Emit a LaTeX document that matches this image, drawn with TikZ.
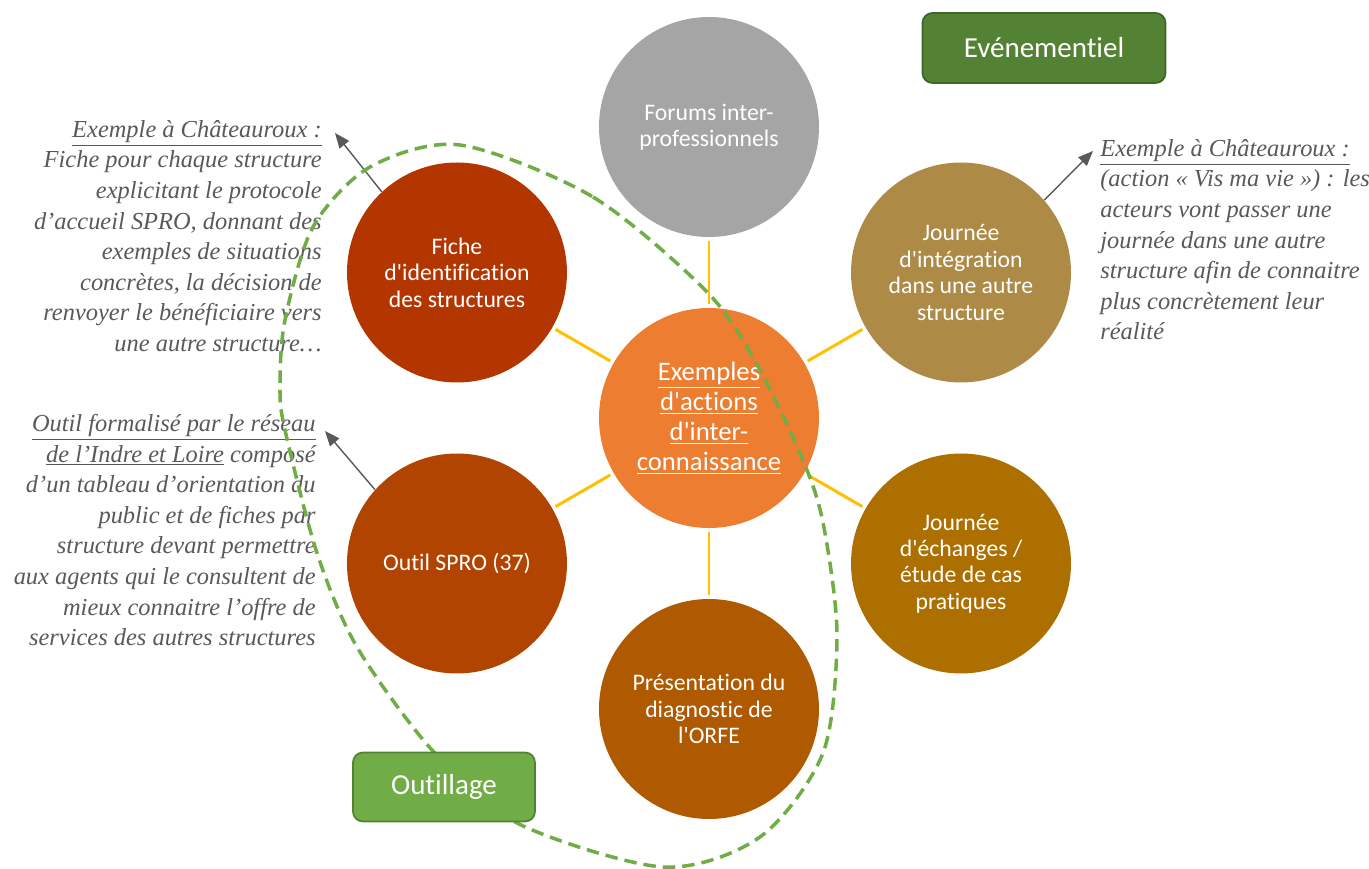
\documentclass[tikz,border=0pt]{standalone}
\usepackage{fontspec}
\setmainfont{Carlito}[Ligatures={TeXOff,NoCommon}]
\newfontfamily\notefont{Liberation Serif}
\usetikzlibrary{arrows.meta}

\definecolor{forumgray}{HTML}{A5A5A5}
\definecolor{huborange}{HTML}{ED7D31}
\definecolor{fichered}{HTML}{B33500}
\definecolor{outilred}{HTML}{B14400}
\definecolor{presbrown}{HTML}{AF5900}
\definecolor{echbrown}{HTML}{AC6F00}
\definecolor{integgold}{HTML}{AD8A45}
\definecolor{spokeyellow}{HTML}{FFC000}
\definecolor{evgreen}{HTML}{548235}
\definecolor{evborder}{HTML}{3F6527}
\definecolor{outgreen}{HTML}{70AD47}
\definecolor{outborder}{HTML}{548235}
\definecolor{notegray}{HTML}{595959}

\begin{document}
\begin{tikzpicture}
                \tikzstyle{bubble}=[circle,minimum size=4.4cm,inner sep=0pt,text=white,align=center,font=\fontsize{13.5}{15}\selectfont]
                \tikzstyle{spoke}=[draw=spokeyellow,line width=1.7pt,shorten <=2pt,shorten >=2pt]
                \tikzstyle{note}=[text=notegray,inner sep=0pt,font=\notefont\itshape\fontsize{13.9}{17.4}\selectfont]
                \tikzstyle{pointer}=[draw=notegray,line width=0.8pt,-{Triangle[length=0.3cm,width=0.24cm]}]
                \tikzstyle{tag}=[rounded corners=0.2cm,line width=1pt,text=white,font=\fontsize{16.5}{19}\selectfont]

                \useasboundingbox (-14.18,-9.02) rectangle (13.2,8.36);

                \node[bubble,fill=huborange,font=\fontsize{15.2}{17}\selectfont] (hub) at (0,0)
                    {\underline{Exemples}\\\underline{d'actions}\\\underline{d'inter-}\\\underline{connaissance}};

                \foreach \name/\ang/\col/\txt in {forums/90/forumgray/{Forums inter-\\professionnels},
                        integ/30/integgold/{Journée\\d'intégration\\dans une autre\\structure},
                        echanges/-30/echbrown/{Journée\\d'échanges /\\étude de cas\\pratiques},
                        pres/-90/presbrown/{Présentation du\\diagnostic de\\l'ORFE},
                        outil/210/outilred/{Outil SPRO (37)},
                        fiche/150/fichered/{Fiche\\d'identification\\des structures}}
                    {
                        \node[bubble,fill=\col] (\name) at (\ang:5.82) {\txt};
                        \draw[spoke] (hub) -- (\name);
                    }

                \node[note,anchor=north east,align=right] (notefiche) at (-7.74,5.96)
                    {\underline{Exemple à Châteauroux :}\\
                    Fiche pour chaque structure\\
                    explicitant le protocole\\
                    d’accueil SPRO, donnant des\\
                    exemples de situations\\
                    concrètes, la décision de\\
                    renvoyer le bénéficiaire vers\\
                    une autre structure…};
                \node[note,anchor=north east,align=right] (noteoutil) at (-7.86,0.08)
                    {\underline{Outil formalisé par le réseau}\\
                    \underline{de l’Indre et Loire} composé\\
                    d’un tableau d’orientation du\\
                    public et de fiches par\\
                    structure devant permettre\\
                    aux agents qui le consultent de\\
                    mieux connaitre l’offre de\\
                    services des autres structures};
                \node[note,anchor=north west,align=left] (noteinteg) at (7.82,5.58)
                    {\underline{Exemple à Châteauroux :}\\
                    (action « Vis ma vie ») : les\\
                    acteurs vont passer une\\
                    journée dans une autre\\
                    structure afin de connaitre\\
                    plus concrètement leur\\
                    réalité};

                \coordinate (tipfiche) at (-7.48,5.7);
                \coordinate (tipoutil) at (-7.68,-0.26);
                \coordinate (tipinteg) at (7.68,5.34);
                \draw[pointer] (fiche.133) -- (tipfiche);
                \draw[pointer] (outil.138) -- (tipoutil);
                \draw[pointer] (integ.41) -- (tipinteg);

                % outillage group
                \draw[outgreen,line width=2pt,dash pattern=on 0.25cm off 0.14cm]
                    plot[smooth cycle] coordinates {(-4.98,5.46) (-2.32,4.42) (-0.02,2.50) (1.02,0.96)
                    (1.96,-1.04) (2.32,-2.30) (2.56,-4.38) (2.28,-6.70) (1.02,-8.38) (-0.92,-8.98)
                    (-3.84,-8.10) (-5.54,-6.64) (-7.04,-4.58) (-7.84,-2.70) (-8.48,-0.24) (-8.58,0.62)
                    (-8.48,1.96) (-7.92,3.82) (-6.78,5.02)};

                \node[tag,fill=evgreen,draw=evborder,minimum width=4.86cm,minimum height=1.4cm] (evenementiel) at (6.7,7.4) {Evénementiel};
                \node[tag,fill=outgreen,draw=outborder,minimum width=3.64cm,minimum height=1.38cm] (outillage) at (-5.3,-7.38) {Outillage};

            \end{tikzpicture}
\end{document}
